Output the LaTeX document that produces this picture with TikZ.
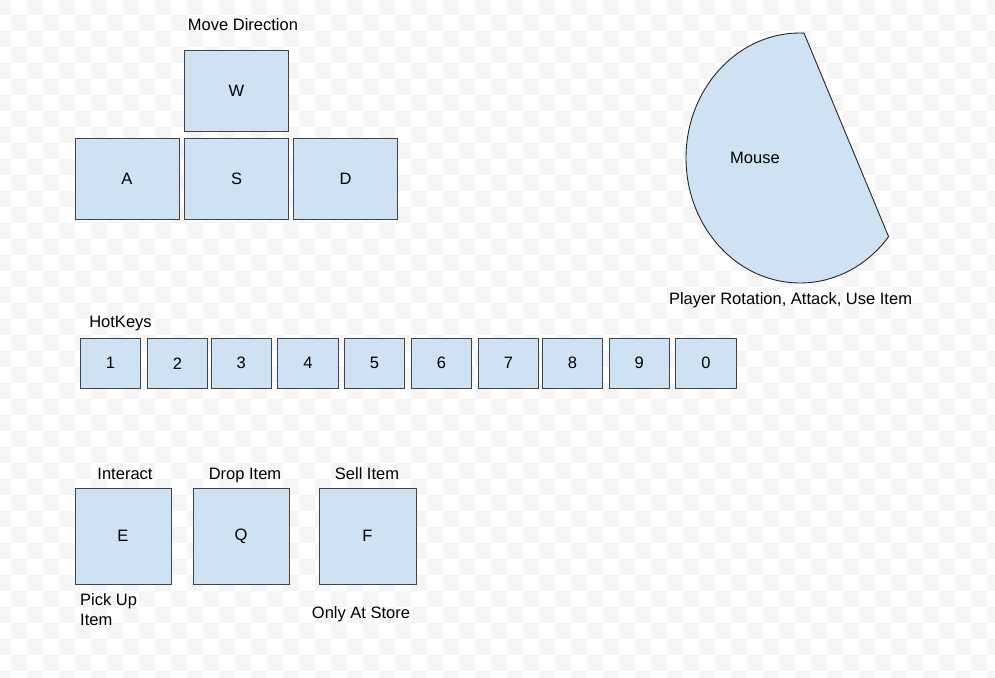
\documentclass[tikz,border=0pt]{standalone}
\usepackage{fontspec}
\setmainfont{Liberation Sans}
\definecolor{keyfill}{HTML}{CFE2F3}
\definecolor{keyline}{HTML}{444444}
\definecolor{checker}{HTML}{F5F5F5}
\tikzset{
  keybox/.style={draw=keyline, fill=keyfill, line width=1pt, inner sep=0pt,
    font=\fontsize{16.5}{19}\selectfont},
  lbl/.style={inner sep=0pt, font=\fontsize{16.5}{19}\selectfont, anchor=base},
}
\begin{document}
\begin{tikzpicture}[x=1pt,y=-1pt]
\useasboundingbox (0,0) rectangle (995,677);
\fill[white] (0,0) rectangle (995,677);
\begin{scope}
\clip (0,0) rectangle (995,677);
\foreach \J in {0,...,43} {
  \pgfmathsetmacro\xo{-5.3+16*mod(\J,2)}
  \foreach \k in {0,...,31} {
    \fill[checker] ({\xo+32*\k},{-1.3+16*\J}) rectangle ++(16,16);
  }
}
\end{scope}

% Move keys
\node[lbl] (movelbl) at (243,31) {Move Direction};
\node[keybox, minimum width=104, minimum height=81] (W) at (236.5,91) {W};
\node[keybox, minimum width=104, minimum height=81] (A) at (127,178.5) {A};
\node[keybox, minimum width=104, minimum height=81] (S) at (236.5,178.5) {S};
\node[keybox, minimum width=104, minimum height=81] (D) at (345.5,178.5) {D};

% Mouse
\filldraw[fill=keyfill, draw=black!85, line width=0.9pt]
  (800,158) ++(-88:114 and 125)
  arc[start angle=-88, end angle=-321, x radius=114, y radius=125] -- cycle;
\node[font=\fontsize{16.5}{19}\selectfont, inner sep=0pt] (mouse) at (755,158) {Mouse};
\node[lbl] (mouselbl) at (790.5,304) {Player Rotation, Attack, Use Item};

% Hotkeys
\node[lbl] (hotlbl) at (120.5,327) {HotKeys};
\foreach \n/\xl in {1/80.3,2/147.3,3/211,4/277.7,5/344.3,6/411.3,7/478.3,8/542.3,9/609,0/675.7} {
  \node[keybox, minimum width=60.3, minimum height=50] (k\n) at ({\xl+30.15},363.3) {\n};
}

% Action keys
\node[lbl] (elbl) at (125,479) {Interact};
\node[lbl] (qlbl) at (245,479) {Drop Item};
\node[lbl] (flbl) at (367,479) {Sell Item};
\node[keybox, minimum width=96, minimum height=96] (E) at (123,536) {E};
\node[keybox, minimum width=96, minimum height=96] (Q) at (241,536) {Q};
\node[keybox, minimum width=97, minimum height=96] (F) at (367.5,536) {F};
\node[lbl, anchor=base west] (pick1) at (80,605) {Pick Up};
\node[lbl, anchor=base west] (pick2) at (80,625) {Item};
\node[lbl] (storelbl) at (361,618) {Only At Store};
\end{tikzpicture}
\end{document}
